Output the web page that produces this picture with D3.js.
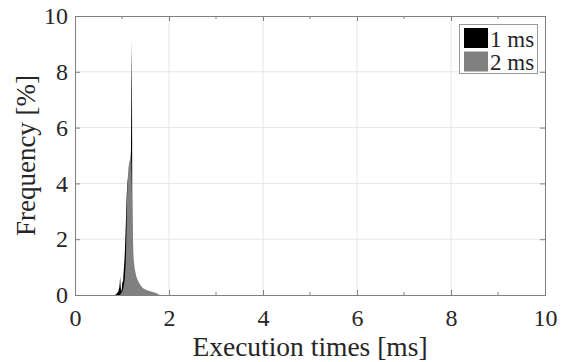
<!DOCTYPE html>
<html lang="en">
<head>
    <meta charset="UTF-8">
    <title>Execution times</title>
    <script src="https://cdn.jsdelivr.net/npm/d3@7"></script>
    <style>
        body { margin: 0; background: #fff; }
        text { font-family: "Liberation Serif", "Times New Roman", serif; fill: #262626; }
    </style>
</head>
<body>
    <div id="chartArea"></div>
    <script>
        // execution time bins [ms] and frequency [%]
        const times1ms = [0.85, 0.88, 0.90, 0.92, 0.94, 0.95, 0.96, 0.97, 0.98, 0.99, 1.00, 1.01, 1.02, 1.03,
            1.04, 1.05, 1.06, 1.07, 1.08, 1.09, 1.10, 1.11, 1.12, 1.13, 1.14, 1.15, 1.16, 1.17, 1.18,
            1.19, 1.20, 1.21, 1.22, 1.23, 1.24, 1.25, 1.26, 1.28, 1.30];
        const freq1ms = [0, 0.04, 0.08, 0.12, 0.25, 0.4, 0.66, 0.35, 0.15, 0.15, 0.3, 0.5, 0.45, 0.7,
            0.95, 1.2, 1.5, 2.0, 2.5, 3.0, 3.6, 3.9, 4.1, 4.2, 4.3, 4.4, 4.5, 4.6, 4.8,
            5.0, 7.6, 9.1, 2.6, 1.4, 0.8, 0.5, 0.3, 0.1, 0];

        const times2ms = [0.95, 0.98, 1.00, 1.02, 1.04, 1.06, 1.08, 1.09, 1.10, 1.11, 1.12, 1.13, 1.14,
            1.15, 1.16, 1.17, 1.18, 1.19, 1.20, 1.21, 1.22, 1.23, 1.24, 1.25, 1.27, 1.30, 1.33, 1.36,
            1.40, 1.45, 1.52, 1.60, 1.67, 1.74, 1.78, 1.80];
        const freq2ms = [0, 0.05, 0.1, 0.2, 0.35, 0.6, 1.2, 1.9, 2.8, 3.7, 4.1, 4.4, 4.6,
            4.7, 4.8, 4.85, 4.9, 5.2, 4.6, 3.8, 3.0, 2.2, 1.6, 1.25, 0.95, 0.7, 0.55, 0.45,
            0.33, 0.24, 0.18, 0.13, 0.1, 0.06, 0.02, 0];

        const seriesNames = ['1 ms', '2 ms'];
        const seriesColors = ['#000000', '#808080'];
        const xTicks = [0, 2, 4, 6, 8, 10];
        const xMinorTicks = [1, 3, 5, 7, 9];
        const yTicks = [0, 2, 4, 6, 8, 10];

        const W = 566, H = 362;
        const margin = { top: 16, right: 21, bottom: 67, left: 75 };
        const w = W - margin.left - margin.right,
            h = H - margin.top - margin.bottom;

        const svg = d3.select('#chartArea').append('svg')
            .attr('width', W)
            .attr('height', H);
        const g = svg.append('g')
            .attr('transform', `translate(${margin.left},${margin.top})`);

        const xScale = d3.scaleLinear().domain([0, 10]).range([0, w]);
        const yScale = d3.scaleLinear().domain([0, 10]).range([h, 0]);

        // grid
        g.append('g').selectAll('line')
            .data(xTicks.slice(1, -1))
            .enter().append('line')
            .attr('x1', d => xScale(d)).attr('x2', d => xScale(d))
            .attr('y1', 0).attr('y2', h)
            .attr('stroke', '#e6e6e6');
        g.append('g').selectAll('line')
            .data(yTicks.slice(1, -1))
            .enter().append('line')
            .attr('x1', 0).attr('x2', w)
            .attr('y1', d => yScale(d)).attr('y2', d => yScale(d))
            .attr('stroke', '#e6e6e6');

        // histograms as filled areas
        const area = d3.area()
            .x(d => xScale(d[0]))
            .y0(h)
            .y1(d => yScale(d[1]));

        const series = [
            d3.zip(times1ms, freq1ms),
            d3.zip(times2ms, freq2ms)
        ];
        g.selectAll('path.hist')
            .data(series)
            .enter().append('path')
            .attr('class', 'hist')
            .attr('d', area)
            .attr('fill', (d, i) => seriesColors[i]);

        // axes (ticks inward, box all round)
        const axisColor = '#808080';
        const axBottom = d3.axisBottom(xScale).tickValues(xTicks).tickSize(-5).tickFormat(d3.format('d')).tickPadding(14);
        const axLeft = d3.axisLeft(yScale).tickValues(yTicks).tickSize(-5).tickFormat(d3.format('d')).tickPadding(7);
        const axTop = d3.axisTop(xScale).tickValues(xTicks).tickSize(-5).tickFormat('');
        const axRight = d3.axisRight(yScale).tickValues(yTicks).tickSize(-5).tickFormat('');

        const gx = g.append('g').attr('transform', `translate(0,${h})`).call(axBottom);
        const gy = g.append('g').call(axLeft);
        const gt = g.append('g').call(axTop);
        const gr = g.append('g').attr('transform', `translate(${w},0)`).call(axRight);

        // minor ticks on the x axis
        g.append('g').selectAll('line')
            .data(xMinorTicks)
            .enter().append('line')
            .attr('x1', d => xScale(d)).attr('x2', d => xScale(d))
            .attr('y1', h).attr('y2', h - 3)
            .attr('stroke', axisColor);
        g.append('g').selectAll('line')
            .data(xMinorTicks)
            .enter().append('line')
            .attr('x1', d => xScale(d)).attr('x2', d => xScale(d))
            .attr('y1', 0).attr('y2', 3)
            .attr('stroke', axisColor);

        [gx, gy, gt, gr].forEach(a => {
            a.selectAll('path.domain').attr('stroke', axisColor);
            a.selectAll('line').attr('stroke', axisColor);
            a.selectAll('text')
                .style('font-family', '"Liberation Serif", serif')
                .style('font-size', '24px')
                .attr('fill', '#262626');
        });

        // axis labels
        svg.append('text')
            .attr('x', margin.left + w / 2)
            .attr('y', 356)
            .attr('text-anchor', 'middle')
            .style('font-size', '27.5px')
            .text('Execution times [ms]');
        svg.append('text')
            .attr('transform', `translate(34.5,${margin.top + h / 2}) rotate(-90)`)
            .attr('text-anchor', 'middle')
            .style('font-size', '27px')
            .text('Frequency [%]');

        // legend
        const legend = svg.append('g').attr('transform', 'translate(459.5,24.5)');
        legend.append('rect')
            .attr('width', 78).attr('height', 49)
            .attr('fill', '#fff')
            .attr('stroke', '#999');
        const items = legend.selectAll('g.item')
            .data(seriesNames)
            .enter().append('g')
            .attr('class', 'item')
            .attr('transform', (d, i) => `translate(4.5,${3.5 + i * 23.5})`);
        items.append('rect')
            .attr('width', 24).attr('height', 20)
            .attr('fill', (d, i) => seriesColors[i]);
        items.append('text')
            .attr('x', 26).attr('y', 18.5)
            .style('font-size', '23px')
            .text(d => d);
    </script>
</body>
</html>
